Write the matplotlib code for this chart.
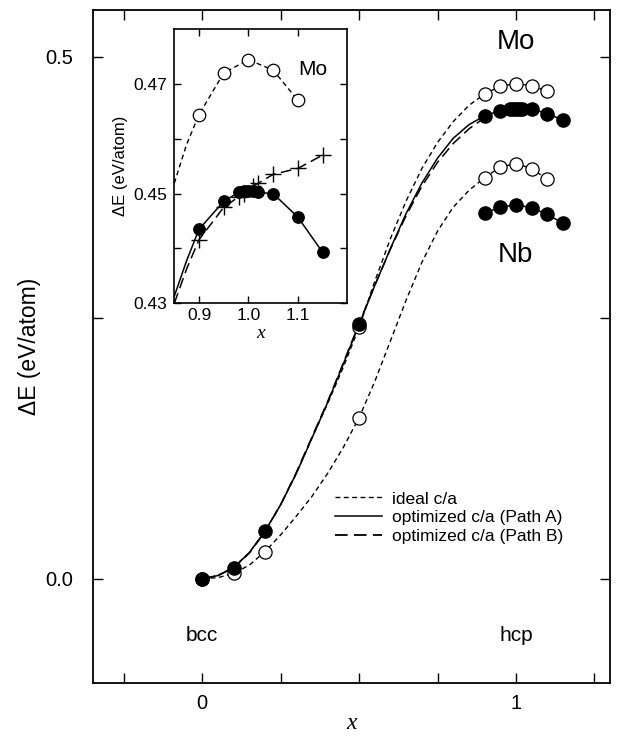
import matplotlib
matplotlib.use('Agg')
import matplotlib.pyplot as plt
from matplotlib.lines import Line2D
import numpy as np

plt.rcParams['font.family'] = ['Liberation Sans', 'DejaVu Sans']

# --- data ---
# smooth curves along the bcc -> hcp path (x = 0 ... 0.9)
path_x = [0, 0.05, 0.1, 0.15, 0.2, 0.25, 0.3, 0.35, 0.4, 0.45,
          0.5, 0.55, 0.6, 0.65, 0.7, 0.75, 0.8, 0.85, 0.9]
mo_a_curve = [0, 0.003, 0.0107, 0.025, 0.0455, 0.071, 0.101, 0.135, 0.169, 0.206,
              0.2437, 0.281, 0.3165, 0.350, 0.379, 0.403, 0.422, 0.435, 0.4435]
mo_b_curve = [0, 0.003, 0.0105, 0.0245, 0.045, 0.071, 0.102, 0.136, 0.170, 0.207,
              0.2445, 0.281, 0.316, 0.348, 0.376, 0.399, 0.417, 0.431, 0.4416]
mo_ideal_curve = [0, 0.003, 0.0107, 0.025, 0.0455, 0.071, 0.101, 0.135, 0.168, 0.203,
                  0.241, 0.285, 0.326, 0.362, 0.393, 0.418, 0.438, 0.4535, 0.4644]
nb_ideal_curve = [0, 0.001, 0.005, 0.013, 0.026, 0.042, 0.060, 0.079, 0.101, 0.126,
                  0.1543, 0.189, 0.228, 0.267, 0.303, 0.333, 0.356, 0.372, 0.3843]

# computed points near bcc
bcc_x = [0, 0.1, 0.2, 0.5]
mo_a_bcc = [0, 0.0107, 0.0455, 0.2437]
nb_ideal_bcc = [0, 0.005, 0.026, 0.1543]
mo_ideal_mid_x = [0.5]
mo_ideal_mid = [0.241]

# computed points near hcp
ideal_x = [0.9, 0.95, 1.0, 1.05, 1.1]
mo_ideal = [0.4644, 0.4720, 0.4744, 0.4725, 0.4670]
nb_ideal = [0.3843, 0.3945, 0.3978, 0.3930, 0.3827]
mo_a_x = [0.9, 0.95, 0.98, 0.99, 1.0, 1.01, 1.02, 1.05, 1.1, 1.15]
mo_a = [0.4435, 0.4486, 0.4502, 0.4504, 0.4505, 0.4505, 0.4502, 0.4500, 0.4457, 0.4393]
nb_a_x = [0.9, 0.95, 1.0, 1.05, 1.1, 1.15]
nb_a = [0.3503, 0.3560, 0.3584, 0.3555, 0.3490, 0.3407]
mo_b_x = [0.9, 0.95, 0.98, 0.99, 1.01, 1.02, 1.05, 1.1, 1.15]
mo_b = [0.4416, 0.4475, 0.4494, 0.4499, 0.4514, 0.4519, 0.4535, 0.4546, 0.4570]

# inset curve ends (x < 0.9)
inset_left_x = [0.85, 0.875]
mo_ideal_left = [0.4519, 0.4590]
mo_a_left = [0.4313, 0.4378]
mo_b_left = [0.4300, 0.4363]

short_dash = (0, (3.5, 2.5))
long_dash = (0, (7, 3.5))

fig = plt.figure(figsize=(6.21, 7.38), dpi=100)
ax = fig.add_axes([0.149, 0.0745, 0.8333, 0.912])

# main curves
ax.plot(path_x + ideal_x[1:], mo_ideal_curve + mo_ideal[1:], color='k', lw=1.0, ls=short_dash)
ax.plot(path_x + ideal_x[1:], nb_ideal_curve + nb_ideal[1:], color='k', lw=1.0, ls=short_dash)
ax.plot(path_x, mo_b_curve, color='k', lw=1.1, ls=long_dash)
ax.plot(path_x + mo_a_x[1:], mo_a_curve + mo_a[1:], color='k', lw=1.1)
ax.plot(nb_a_x, nb_a, color='k', lw=1.1)

filled = dict(ls='none', marker='o', ms=9.5, mfc='k', mec='k', zorder=5)
hollow = dict(ls='none', marker='o', ms=9.5, mfc='white', mec='k', mew=0.9, zorder=4)
ax.plot(bcc_x, nb_ideal_bcc, **hollow)
ax.plot(mo_ideal_mid_x, mo_ideal_mid, **hollow)
ax.plot(ideal_x, mo_ideal, **hollow)
ax.plot(ideal_x, nb_ideal, **hollow)
ax.plot(bcc_x, mo_a_bcc, **filled)
ax.plot(mo_a_x, mo_a, **filled)
ax.plot(nb_a_x, nb_a, **filled)

ax.set_xlim(-0.35, 1.30)
ax.set_ylim(-0.1, 0.545)
ax.set_xticks(np.arange(-0.25, 1.26, 0.25))
ax.set_xticklabels(['', '0', '', '', '', '1', ''])
ax.set_yticks([0, 0.25, 0.5])
ax.set_yticklabels(['0.0', '', '0.5'])
ax.tick_params(direction='in', top=True, right=True, length=7, width=1.0, labelsize=14.5)
ax.tick_params(axis='y', pad=14)
ax.tick_params(axis='x', pad=8)
for s in ax.spines.values():
    s.set_linewidth(1.3)

ax.set_ylabel('ΔE (eV/atom)', fontsize=16.5)
ax.yaxis.set_label_coords(-0.1, 0.5)
ax.set_xlabel('x', fontsize=17, family='Liberation Serif', style='italic')
ax.xaxis.set_label_coords(0.5, -0.045)

ax.text(1.0, 0.514, 'Mo', fontsize=20, ha='center', va='center')
ax.text(1.0, 0.31, 'Nb', fontsize=20, ha='center', va='center')
ax.text(0.0, -0.054, 'bcc', fontsize=15, ha='center', va='center')
ax.text(1.0, -0.054, 'hcp', fontsize=15, ha='center', va='center')

handles = [Line2D([], [], color='k', lw=1.0, ls=short_dash),
           Line2D([], [], color='k', lw=1.1),
           Line2D([], [], color='k', lw=1.3, ls=long_dash)]
labels = ['ideal c/a', 'optimized c/a (Path A)', 'optimized c/a (Path B)']
ax.legend(handles, labels, loc='upper left', bbox_to_anchor=(0.455, 0.295),
          frameon=False, fontsize=12.5, handlelength=2.7, handletextpad=0.6,
          labelspacing=0.2, borderaxespad=0)

# --- inset: Mo near hcp ---
ins = fig.add_axes([0.2807, 0.589, 0.2786, 0.3717])
ins.set_zorder(10)
ins.plot(inset_left_x + ideal_x, mo_ideal_left + mo_ideal, color='k', lw=1.0, ls=short_dash)
ins.plot(inset_left_x + mo_a_x, mo_a_left + mo_a, color='k', lw=1.1)
ins.plot(inset_left_x + mo_b_x, mo_b_left + mo_b, color='k', lw=1.1, ls=long_dash)
ins.plot(ideal_x, mo_ideal, ls='none', marker='o', ms=9, mfc='white', mec='k', mew=0.9, zorder=4)
ins.plot(mo_a_x, mo_a, ls='none', marker='o', ms=8.2, mfc='k', mec='k', zorder=5)
ins.plot(mo_b_x, mo_b, ls='none', marker='+', ms=12, mec='k', mew=1.0, zorder=6)

ins.set_xlim(0.85, 1.2)
ins.set_ylim(0.43, 0.48)
ins.set_xticks([0.9, 1.0, 1.1])
ins.set_xticklabels(['0.9', '1.0', '1.1'])
ins.set_yticks([0.43, 0.44, 0.45, 0.46, 0.47])
ins.set_yticklabels(['0.43', '', '0.45', '', '0.47'])
ins.tick_params(direction='in', top=True, right=True, length=5, width=1.0, labelsize=12.5)
ins.tick_params(axis='y', pad=5)
for s in ins.spines.values():
    s.set_linewidth(1.2)
ins.set_ylabel('ΔE (eV/atom)', fontsize=12)
ins.set_xlabel('x', fontsize=14, family='Liberation Serif', style='italic', labelpad=1)
ins.text(1.13, 0.4727, 'Mo', fontsize=15, ha='center', va='center')

fig.savefig('out.png', dpi=100)
